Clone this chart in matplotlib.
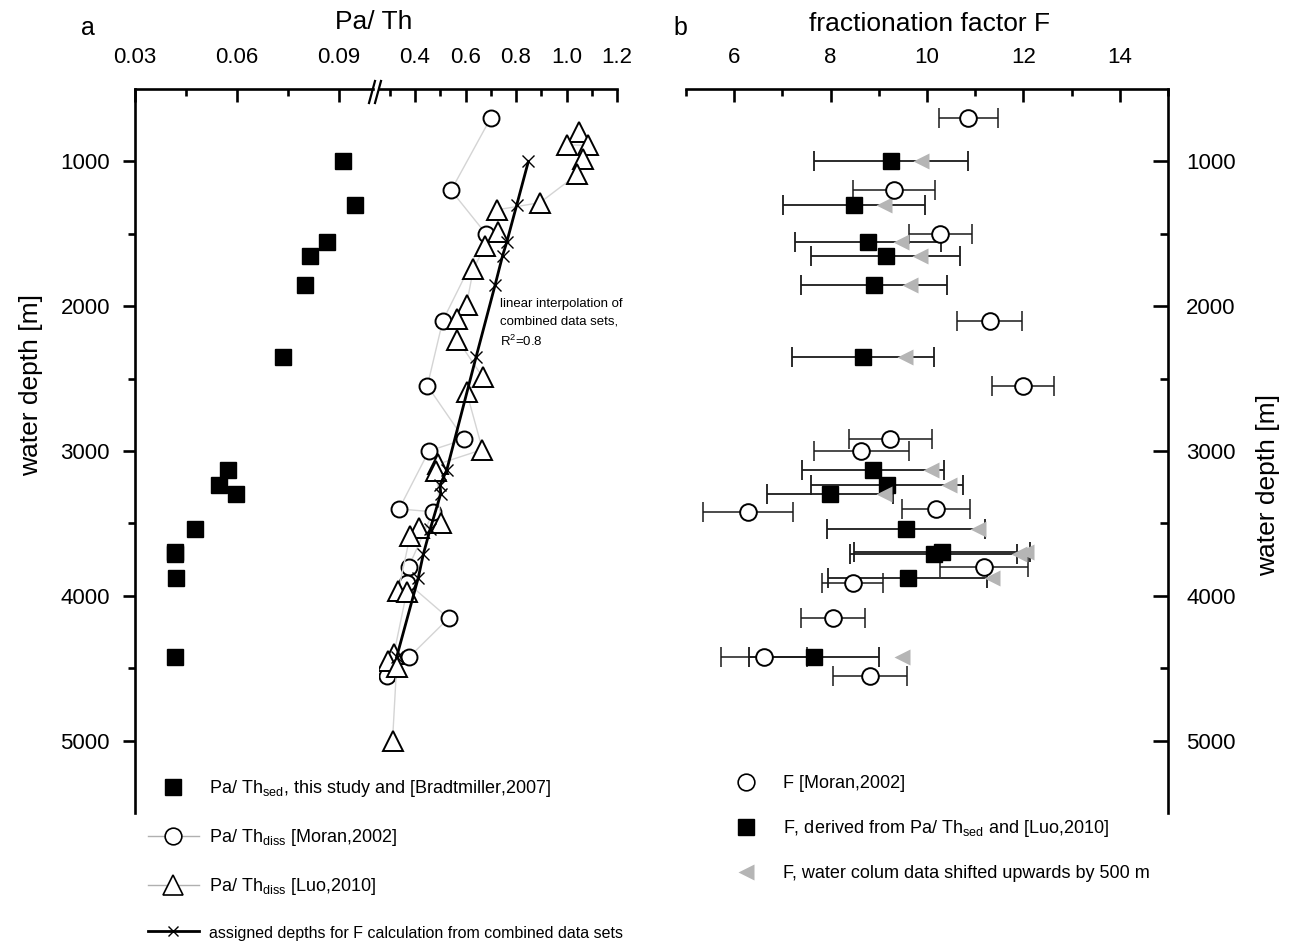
import matplotlib
matplotlib.use('Agg')
import matplotlib.pyplot as plt
from matplotlib.lines import Line2D
from matplotlib.ticker import FixedLocator

plt.rcParams['font.family'] = ['Liberation Sans', 'DejaVu Sans']
plt.rcParams['mathtext.fontset'] = 'custom'
plt.rcParams['mathtext.rm'] = 'Liberation Sans'
plt.rcParams['mathtext.it'] = 'Liberation Sans'

NARROW = ['Liberation Sans Narrow', 'Liberation Sans', 'DejaVu Sans']

# ---------------- data: panel a ----------------
sed_depth = [1000, 1300, 1560, 1650, 1855, 2350, 3130, 3235, 3295, 3540, 3700, 3712, 3875, 4425]
sed_pa_th = [0.0912, 0.0947, 0.0864, 0.0814, 0.0801, 0.0735, 0.0575, 0.0548, 0.0597,
             0.0477, 0.0418, 0.0419, 0.0422, 0.0418]

moran_depth = [700, 1200, 1500, 2100, 2550, 2920, 3000, 3400, 3420, 3800, 3910, 4155, 4425, 4555]
moran_pa_th = [0.700, 0.543, 0.681, 0.510, 0.449, 0.595, 0.455, 0.337, 0.472, 0.375, 0.370,
               0.533, 0.376, 0.290]

luo_depth = [800, 885, 890, 985, 1090, 1285, 1335, 1490, 1585, 1745, 1990, 2090, 2230, 2490,
             2590, 2990, 3090, 3140, 3500, 3535, 3590, 3965, 3975, 4405, 4447, 4493, 5000]
luo_pa_th = [1.049, 1.000, 1.087, 1.066, 1.042, 0.895, 0.723, 0.730, 0.677, 0.631, 0.604, 0.568,
             0.568, 0.668, 0.604, 0.667, 0.492, 0.485, 0.502, 0.417, 0.380, 0.334, 0.367,
             0.316, 0.293, 0.327, 0.311]

assigned_depth = [1000, 1300, 1560, 1650, 1855, 2350, 3130, 3235, 3295, 3540, 3712, 3875, 4425]
assigned_pa_th = [0.849, 0.803, 0.763, 0.747, 0.717, 0.642, 0.526, 0.499, 0.502, 0.460, 0.433,
                  0.413, 0.327]

# ---------------- data: panel b ----------------
moran_F = [10.86, 9.31, 10.28, 11.30, 11.99, 9.24, 8.64, 10.19, 6.28, 11.18, 8.46, 8.05, 6.62, 8.82]
moran_F_err = [0.62, 0.85, 0.66, 0.67, 0.65, 0.86, 0.98, 0.70, 0.93, 0.92, 0.63, 0.67, 0.90, 0.77]

sed_F = [9.26, 8.49, 8.78, 9.14, 8.90, 8.67, 8.88, 9.17, 7.99, 9.56, 10.31, 10.14, 9.60, 7.65]
sed_F_err = [1.60, 1.47, 1.51, 1.54, 1.51, 1.47, 1.48, 1.58, 1.31, 1.64, 1.83, 1.73, 1.65, 1.35]

shift_F = [9.875, 9.11, 9.47, 9.86, 9.65, 9.55, 10.08, 10.45, 9.11, 11.06, 12.05, 11.90, 11.35, 9.48]

# ---------------- layout ----------------
W, H = 1291, 944
fig = plt.figure(figsize=(W / 100, H / 100), dpi=100)


def box(x0, x1, y0, y1):
    return [x0 / W, 1 - y1 / H, (x1 - x0) / W, (y1 - y0) / H]


axL = fig.add_axes(box(135, 373, 89, 813))
axR = fig.add_axes(box(379, 617, 89, 813), sharey=axL)
axB = fig.add_axes(box(686, 1168, 89, 813))

SPW = 1.9
TICK = 16

for ax in (axL, axR, axB):
    for s in ax.spines.values():
        s.set_linewidth(SPW)
    ax.spines['bottom'].set_visible(False)
    ax.set_facecolor('none')

axL.spines['right'].set_visible(False)
axR.spines['right'].set_visible(False)
axR.spines['left'].set_visible(False)
axB.spines['left'].set_visible(False)

axL.set_ylim(5500, 500)
axB.set_ylim(5500, 500)

axL.set_xlim(0.03, 0.10)
axR.set_xlim(0.2574, 1.2)
axB.set_xlim(5, 15)

for ax in (axL, axR, axB):
    ax.xaxis.tick_top()
    ax.tick_params(axis='x', which='major', direction='in', length=9, width=SPW,
                   labelsize=TICK, pad=15)
    ax.tick_params(axis='x', which='minor', direction='in', length=5, width=SPW)

axL.xaxis.set_major_locator(FixedLocator([0.03, 0.06, 0.09]))
axL.xaxis.set_minor_locator(FixedLocator([0.045, 0.075]))
axL.set_xticklabels(['0.03', '0.06', '0.09'])
axR.xaxis.set_major_locator(FixedLocator([0.4, 0.6, 0.8, 1.0, 1.2]))
axR.xaxis.set_minor_locator(FixedLocator([0.3, 0.5, 0.7, 0.9, 1.1]))
axR.set_xticklabels(['0.4', '0.6', '0.8', '1.0', '1.2'])
axB.xaxis.set_major_locator(FixedLocator([6, 8, 10, 12, 14]))
axB.xaxis.set_minor_locator(FixedLocator([5, 7, 9, 11, 13, 15]))

yt = [1000, 2000, 3000, 4000, 5000]
ym = [1500, 2500, 3500, 4500]
axL.yaxis.set_major_locator(FixedLocator(yt))
axL.yaxis.set_minor_locator(FixedLocator(ym))
axL.tick_params(axis='y', which='major', direction='out', length=9, width=SPW,
                labelsize=TICK, pad=9)
axL.tick_params(axis='y', which='minor', direction='out', length=5, width=SPW)
axR.tick_params(axis='y', which='both', left=False, labelleft=False)

axB.yaxis.tick_right()
axB.yaxis.set_major_locator(FixedLocator(yt))
axB.yaxis.set_minor_locator(FixedLocator(ym))
axB.tick_params(axis='y', which='major', direction='in', length=11, width=SPW,
                labelsize=TICK, pad=13)
axB.tick_params(axis='y', which='minor', direction='in', length=6, width=SPW)

# ---------------- panel a plotting ----------------
GL = '#d4d4d4'
axR.plot(moran_pa_th, moran_depth, '-', color=GL, lw=1, zorder=2)
axR.plot(moran_pa_th, moran_depth, 'o', ms=11.5, mfc='white', mec='black', mew=1.4, zorder=3)
axR.plot(luo_pa_th, luo_depth, '-', color=GL, lw=1, zorder=4)
axR.plot(luo_pa_th, luo_depth, '^', ms=14, mfc='white', mec='black', mew=1.4, zorder=5)
axR.plot(assigned_pa_th, assigned_depth, '-', color='black', lw=2.0, zorder=6)
axR.plot(assigned_pa_th, assigned_depth, 'x', color='black', ms=8, mew=1.0, zorder=7)
axL.plot(sed_pa_th, sed_depth, 's', ms=11, color='black', zorder=5)

axR.text(0.737, 1945, 'linear interpolation of\ncombined data sets,\nR$^2$=0.8',
         ha='left', va='top', fontsize=9.5, family=NARROW, linespacing=1.55, zorder=8)

# break marks on the top axis
for dx in (0, 6):
    fig.add_artist(Line2D([(369 + dx) / W, (375 + dx) / W], [1 - 103 / H, 1 - 81 / H],
                          color='black', lw=1.6, transform=fig.transFigure))

# ---------------- panel b plotting ----------------
axB.errorbar(sed_F, sed_depth, xerr=sed_F_err, fmt='none', ecolor='#1a1a1a', elinewidth=1.3,
             capsize=7, capthick=1.3, zorder=3)
axB.errorbar(moran_F, moran_depth, xerr=moran_F_err, fmt='none', ecolor='#1a1a1a',
             elinewidth=1.1, capsize=7, capthick=1.1, zorder=3)
axB.plot(sed_F, sed_depth, 's', ms=11, color='black', zorder=4)
axB.plot(shift_F, sed_depth, '<', ms=12, color='#b5b5b5', mec='none', zorder=5)
axB.plot(moran_F, moran_depth, 'o', ms=12, mfc='white', mec='black', mew=1.4, zorder=6)

# ---------------- titles / labels ----------------
fig.text(88 / W, 1 - 28 / H, 'a', fontsize=18, ha='center', va='center')
fig.text(680 / W, 1 - 28 / H, 'b', fontsize=18, ha='center', va='center')
fig.text(374 / W, 1 - 22 / H, 'Pa/ Th', fontsize=19, ha='center', va='center')
fig.text(930 / W, 1 - 24 / H, 'fractionation factor F', fontsize=19, ha='center', va='center')
fig.text(31 / W, 1 - 385 / H, 'water depth [m]', fontsize=19, rotation=90,
         ha='center', va='center')
fig.text(1268 / W, 1 - 485 / H, 'water depth [m]', fontsize=19, rotation=90,
         ha='center', va='center')

# ---------------- legends ----------------
hA = [Line2D([], [], ls='none', marker='s', ms=11, color='black'),
      Line2D([], [], ls='-', color='#b0b0b0', lw=1, marker='o', ms=12, mfc='white',
             mec='black', mew=1.2),
      Line2D([], [], ls='-', color='#b0b0b0', lw=1, marker='^', ms=14, mfc='white',
             mec='black', mew=1.2),
      Line2D([], [], ls='-', color='black', lw=2, marker='x', ms=7, mew=1.0)]
lA = ['Pa/ Th$_{\\mathrm{sed}}$, this study and [Bradtmiller,2007]',
      'Pa/ Th$_{\\mathrm{diss}}$ [Moran,2002]',
      'Pa/ Th$_{\\mathrm{diss}}$ [Luo,2010]',
      'assigned depths for F calculation from combined data sets']
legA = fig.legend(hA, lA, loc='upper left', bbox_to_anchor=(148 / W, 1 - 778 / H),
                  frameon=False, prop={'family': NARROW, 'size': 13}, handlelength=2.8,
                  handletextpad=0.6, labelspacing=1.55, borderpad=0, borderaxespad=0)
legA.get_texts()[3].set_fontsize(11.5)

hB = [Line2D([], [], ls='none', marker='o', ms=12, mfc='white', mec='black', mew=1.2),
      Line2D([], [], ls='none', marker='s', ms=11, color='black'),
      Line2D([], [], ls='none', marker='<', ms=12, color='#b5b5b5', mec='none')]
lB = ['F [Moran,2002]',
      'F, derived from Pa/ Th$_{\\mathrm{sed}}$ and [Luo,2010]',
      'F, water colum data shifted upwards by 500 m']
fig.legend(hB, lB, loc='upper left', bbox_to_anchor=(727 / W, 1 - 775 / H),
           frameon=False, prop={'family': NARROW, 'size': 13}, handlelength=2.1,
           handletextpad=1.0, labelspacing=1.45, borderpad=0, borderaxespad=0)

fig.savefig('out.png', dpi=100)
